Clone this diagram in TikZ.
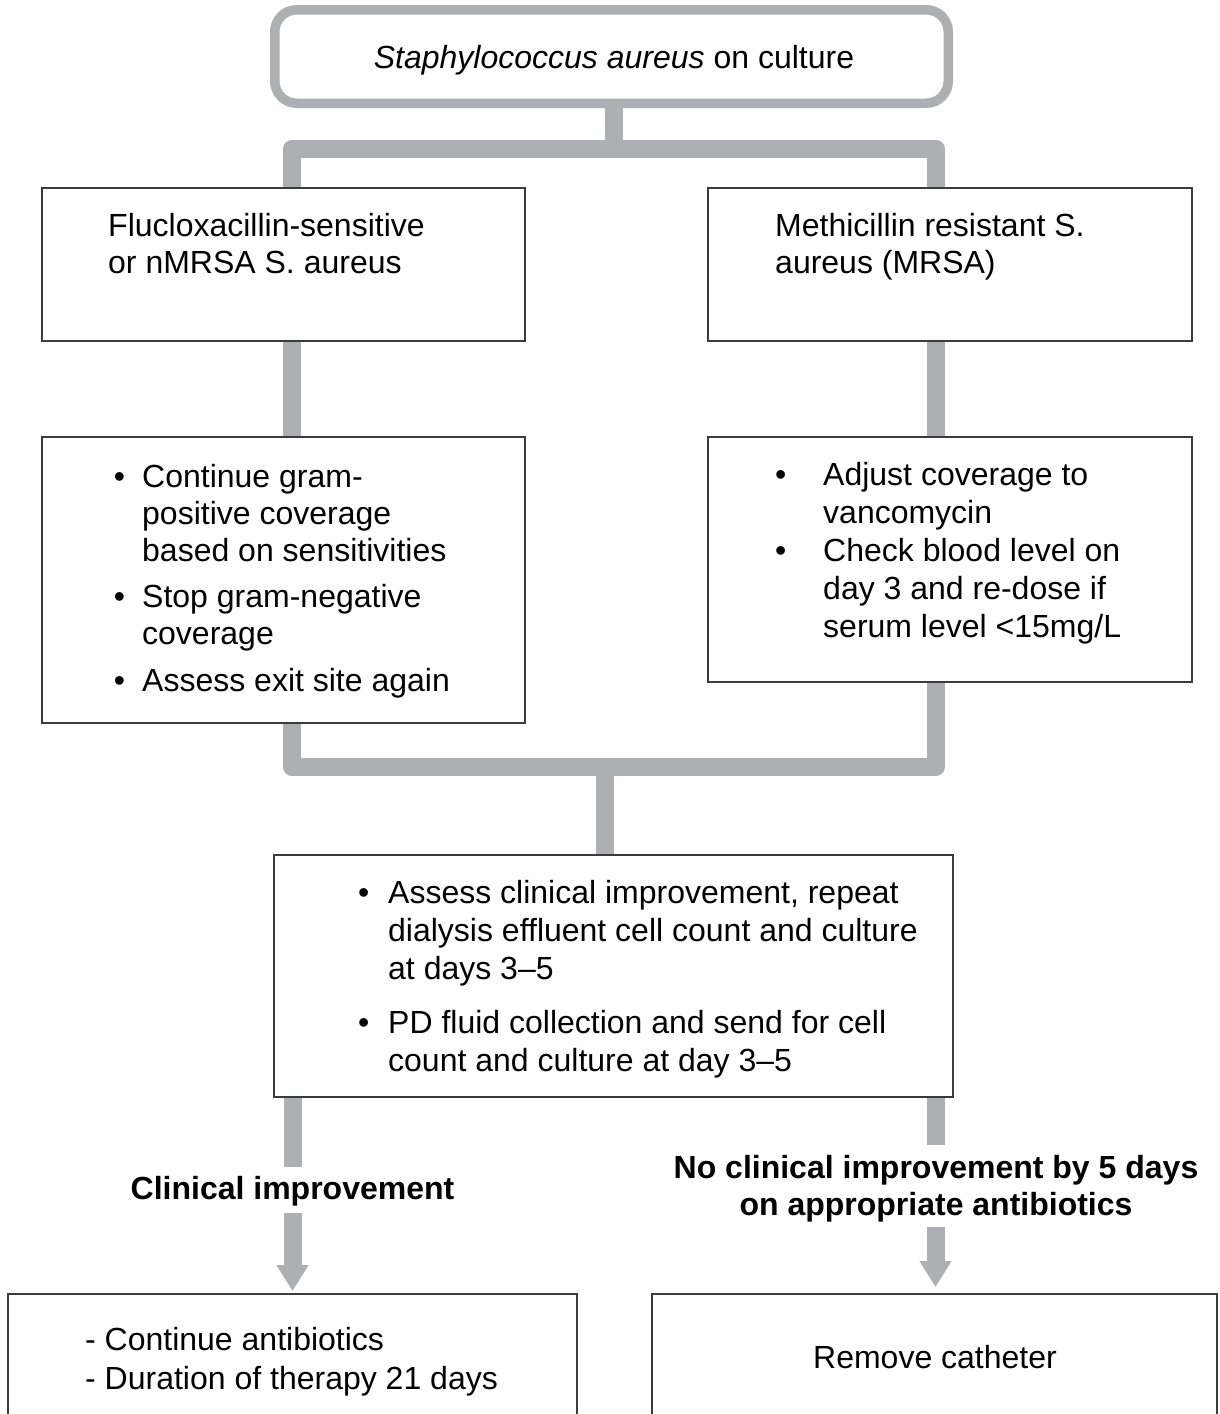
\documentclass[tikz,border=0pt]{standalone}
\usepackage{fontspec}
\setmainfont{Liberation Sans}
\usetikzlibrary{arrows.meta}
\definecolor{conngray}{RGB}{173,175,178}
\definecolor{boxline}{RGB}{60,60,60}
\pgfdeclarelayer{bg}
\pgfsetlayers{bg,main}
\newcommand\bulletmark[1]{\llap{•\hspace{#1}}}
\begin{document}
\begin{tikzpicture}[x=1pt,y=-1pt,
  box/.style={draw=boxline, line width=1.6pt, fill=white, inner sep=0pt},
  conn/.style={draw=conngray, line width=18pt, line join=round},
  arr/.style={conn, -{Triangle[width=30pt,length=26pt]}},
  txt/.style={inner sep=0pt, font=\fontsize{32}{37}\selectfont},
  btxt/.style={inner sep=0pt, font=\fontsize{32}{37}\selectfont\bfseries}]
\useasboundingbox (0,0) rectangle (1219,1414);
\clip (0,0) rectangle (1219,1414);

% boxes
\node[draw=conngray, line width=9.5pt, rounded corners=22pt, fill=white,
      minimum width=673.5pt, minimum height=93.5pt, inner sep=0pt] (top) at (611.5,56.5) {};
\node[box, minimum width=483pt, minimum height=153pt] (lb1) at (283.5,264.5) {};
\node[box, minimum width=484pt, minimum height=153pt] (rb1) at (950,264.5) {};
\node[box, minimum width=483pt, minimum height=286pt] (lb2) at (283.5,580) {};
\node[box, minimum width=484pt, minimum height=245pt] (rb2) at (950,559.5) {};
\node[box, minimum width=679pt, minimum height=242pt] (cb) at (613.5,976) {};
\node[box, minimum width=569pt, minimum height=160pt] (bl) at (292.5,1374) {};
\node[box, minimum width=565pt, minimum height=160pt] (br) at (934.5,1374) {};

% helper coordinates
\coordinate (xl) at (292,0);
\coordinate (xr) at (935.5,0);
\coordinate (tj) at (614,148.5);
\coordinate (bj) at (605,767);
\coordinate (la1) at (292.5,1167);
\coordinate (la2) at (292.5,1213);
\coordinate (ra1) at (935.5,1145);
\coordinate (ra2) at (935.5,1227);

% connectors
\begin{pgfonlayer}{bg}
\draw[conn] (top.south -| tj) -- (tj);
\draw[conn] (lb1.north -| xl) |- (tj) -| (rb1.north -| xr);
\draw[conn] (lb1.south -| xl) -- (lb2.north -| xl);
\draw[conn] (rb1.south -| xr) -- (rb2.north -| xr);
\draw[conn] (lb2.south -| xl) |- (bj) -| (rb2.south -| xr);
\draw[conn] (bj) -- (cb.north -| bj);
\draw[conn] (cb.south -| la1) -- (la1);
\draw[arr] (la2) -- ([yshift=2pt]bl.north -| la2);
\draw[conn] (cb.south -| ra1) -- (ra1);
\draw[arr] (ra2) -- ([yshift=6pt]br.north -| ra2);
\end{pgfonlayer}

% texts
\node[txt, anchor=base] (ttext) at (614,68) {\textit{Staphylococcus aureus} on culture};

\node[txt, anchor=base west] (t1a) at (108,236) {Flucloxacillin-sensitive};
\node[txt, anchor=base west] (t1b) at (108,273) {or nMRSA S. aureus};
\node[txt, anchor=base west] (t2a) at (775,236) {Methicillin resistant S.};
\node[txt, anchor=base west] (t2b) at (775,273) {aureus (MRSA)};

\node[txt, anchor=base west] (t3a) at (142,487) {\bulletmark{17pt}Continue gram-};
\node[txt, anchor=base west] (t3b) at (142,524) {positive coverage};
\node[txt, anchor=base west] (t3c) at (142,561) {based on sensitivities};
\node[txt, anchor=base west] (t3d) at (142,607) {\bulletmark{17pt}Stop gram-negative};
\node[txt, anchor=base west] (t3e) at (142,644) {coverage};
\node[txt, anchor=base west] (t3f) at (142,691) {\bulletmark{17pt}Assess exit site again};

\node[txt, anchor=base west] (t4a) at (823,485) {\bulletmark{37pt}Adjust coverage to};
\node[txt, anchor=base west] (t4b) at (823,523) {vancomycin};
\node[txt, anchor=base west] (t4c) at (823,561) {\bulletmark{37pt}Check blood level on};
\node[txt, anchor=base west] (t4d) at (823,599) {day 3 and re-dose if};
\node[txt, anchor=base west] (t4e) at (823,637) {serum level <15mg/L};

\node[txt, anchor=base west] (t5a) at (388,903) {\bulletmark{19pt}Assess clinical improvement, repeat};
\node[txt, anchor=base west] (t5b) at (388,941) {dialysis effluent cell count and culture};
\node[txt, anchor=base west] (t5c) at (388,979) {at days 3–5};
\node[txt, anchor=base west] (t5d) at (388,1033) {\bulletmark{19pt}PD fluid collection and send for cell};
\node[txt, anchor=base west] (t5e) at (388,1071) {count and culture at day 3–5};

\node[btxt, anchor=base] (l1) at (292.5,1199) {Clinical improvement};
\node[btxt, anchor=base] (l2a) at (936,1178) {No clinical improvement by 5 days};
\node[btxt, anchor=base] (l2b) at (936,1215) {on appropriate antibiotics};

\node[txt, anchor=base west] (t6a) at (85,1350) {- Continue antibiotics};
\node[txt, anchor=base west] (t6b) at (85,1389) {- Duration of therapy 21 days};
\node[txt, anchor=base] (t7) at (935,1368) {Remove catheter};
\end{tikzpicture}
\end{document}
